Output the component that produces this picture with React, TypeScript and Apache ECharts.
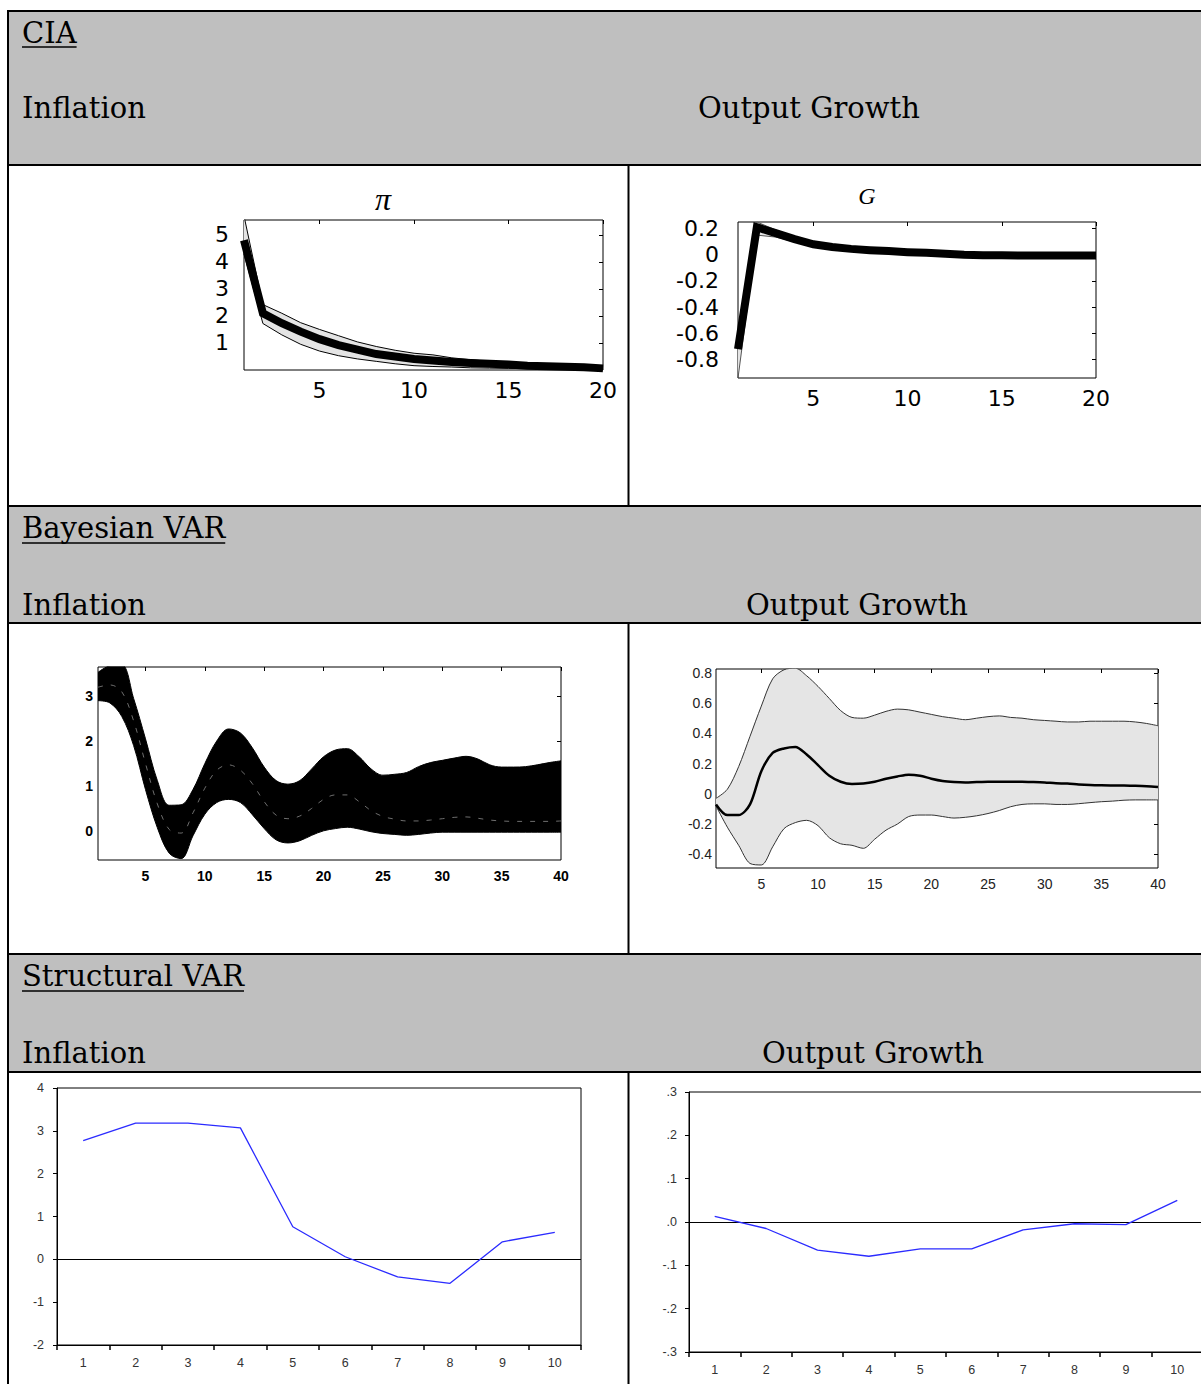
import React, { useEffect, useRef } from "react";
import * as echarts from "echarts";

// Impulse-response horizons
const ciaHorizons = ["1", "2", "3", "4", "5", "6", "7", "8", "9", "10", "11", "12", "13", "14", "15", "16", "17", "18", "19", "20"];
const bvarHorizons = [
  "1", "2", "3", "4", "5", "6", "7", "8", "9", "10", "11", "12", "13", "14", "15", "16", "17", "18", "19", "20",
  "21", "22", "23", "24", "25", "26", "27", "28", "29", "30", "31", "32", "33", "34", "35", "36", "37", "38", "39", "40",
];
const svarPeriods = ["1", "2", "3", "4", "5", "6", "7", "8", "9", "10"];

// CIA model: inflation response (π) with its band
const ciaPiMean = [4.8, 2.1, 1.73, 1.42, 1.14, 0.92, 0.75, 0.59, 0.5, 0.41, 0.35, 0.3, 0.26, 0.23, 0.2, 0.16, 0.14, 0.12, 0.1, 0.06];
const ciaPiUpper = [5.7, 2.42, 2.1, 1.75, 1.5, 1.27, 1.04, 0.87, 0.73, 0.62, 0.56, 0.45, 0.38, 0.32, 0.28, 0.25, 0.22, 0.2, 0.18, 0.16];
const ciaPiLower = [4.3, 1.72, 1.3, 0.95, 0.7, 0.53, 0.41, 0.32, 0.23, 0.16, 0.13, 0.11, 0.08, 0.07, 0.06, 0.05, 0.04, 0.03, 0.03, 0.02];

// CIA model: output growth response (G) with its band
const ciaGMean = [-0.72, 0.21, 0.165, 0.12, 0.08, 0.06, 0.045, 0.035, 0.028, 0.02, 0.015, 0.008, 0.0, -0.003, -0.004, -0.005, -0.005, -0.005, -0.005, -0.005];
const ciaGUpper = [-0.6, 0.25, 0.19, 0.14, 0.1, 0.075, 0.058, 0.046, 0.038, 0.03, 0.024, 0.017, 0.01, 0.006, 0.004, 0.003, 0.002, 0.002, 0.002, 0.002];
const ciaGLower = [-0.94, 0.15, 0.135, 0.098, 0.062, 0.045, 0.033, 0.024, 0.018, 0.011, 0.006, 0.0, -0.008, -0.011, -0.012, -0.013, -0.013, -0.013, -0.013, -0.013];

// Bayesian VAR: inflation draws (envelope and inner path)
const bvarPiUpper = [
  3.53, 3.68, 3.7, 2.95, 2.05, 1.12, 0.57, 0.58, 0.92, 1.5,
  2.0, 2.27, 2.18, 1.85, 1.42, 1.12, 1.04, 1.12, 1.38, 1.65,
  1.8, 1.83, 1.65, 1.38, 1.24, 1.26, 1.3, 1.43, 1.52, 1.57,
  1.62, 1.66, 1.6, 1.47, 1.42, 1.42, 1.43, 1.47, 1.52, 1.56,
];
const bvarPiLower = [
  2.9, 2.85, 2.55, 1.9, 0.92, 0.07, -0.5, -0.62, -0.11, 0.37,
  0.63, 0.7, 0.63, 0.36, 0.05, -0.2, -0.27, -0.22, -0.1, 0.0,
  0.05, 0.08, 0.04, -0.02, -0.06, -0.08, -0.1, -0.08, -0.05, -0.03,
  -0.03, -0.03, -0.03, -0.03, -0.03, -0.03, -0.03, -0.03, -0.03, -0.03,
];
const bvarPiInner = [
  3.2, 3.25, 3.1, 2.45, 1.5, 0.6, 0.03, -0.05, 0.4, 0.95,
  1.35, 1.47, 1.35, 1.05, 0.65, 0.35, 0.27, 0.33, 0.5, 0.7,
  0.8, 0.8, 0.65, 0.45, 0.32, 0.26, 0.22, 0.22, 0.24, 0.27,
  0.3, 0.31, 0.28, 0.24, 0.22, 0.21, 0.21, 0.21, 0.21, 0.22,
];

// Bayesian VAR: output growth median and band
const bvarGMean = [
  -0.07, -0.14, -0.14, -0.07, 0.15, 0.27, 0.3, 0.31, 0.26, 0.19,
  0.12, 0.08, 0.065, 0.068, 0.08, 0.1, 0.115, 0.127, 0.12, 0.1,
  0.085, 0.078, 0.075, 0.078, 0.08, 0.08, 0.08, 0.08, 0.078, 0.075,
  0.07, 0.068, 0.062, 0.058, 0.056, 0.055, 0.055, 0.053, 0.05, 0.045,
];
const bvarGUpper = [
  -0.03, 0.03, 0.18, 0.38, 0.58, 0.76, 0.82, 0.83, 0.78, 0.71,
  0.63, 0.55, 0.505, 0.5, 0.52, 0.545, 0.56, 0.555, 0.54, 0.525,
  0.51, 0.5, 0.49, 0.5, 0.51, 0.515, 0.505, 0.5, 0.49, 0.485,
  0.48, 0.475, 0.475, 0.48, 0.48, 0.48, 0.48, 0.475, 0.465, 0.45,
];
const bvarGLower = [
  -0.08, -0.22, -0.34, -0.46, -0.47, -0.35, -0.23, -0.19, -0.175, -0.21,
  -0.29, -0.33, -0.34, -0.36, -0.3, -0.24, -0.2, -0.15, -0.14, -0.14,
  -0.15, -0.16, -0.155, -0.145, -0.13, -0.11, -0.085, -0.07, -0.066, -0.066,
  -0.07, -0.07, -0.065, -0.058, -0.052, -0.048, -0.042, -0.04, -0.04, -0.04,
];

// Structural VAR responses
const svarPi = [2.77, 3.18, 3.18, 3.07, 0.76, 0.06, -0.41, -0.56, 0.41, 0.63];
const svarG = [0.013, -0.015, -0.065, -0.079, -0.062, -0.062, -0.018, -0.004, -0.006, 0.05];

// Tick labels
const ciaXTicks = ["5", "10", "15", "20"];
const ciaPiYTicks = [1, 2, 3, 4, 5];
const ciaGYTicks = [-0.8, -0.6, -0.4, -0.2, 0, 0.2];
const bvarXTicks = ["5", "10", "15", "20", "25", "30", "35", "40"];
const bvarPiYTicks = [0, 1, 2, 3];
const bvarGYTicks = [-0.4, -0.2, 0, 0.2, 0.4, 0.6, 0.8];

const HEADER_FONT_SIZE = 29;
const HEADER_FONT_FAMILY = '"DejaVu Serif"';

function measure(text: string, font: string) {
  const ctx = document.createElement("canvas").getContext("2d");
  if (!ctx) return text.length * 15;
  ctx.font = font;
  return ctx.measureText(text).width;
}

// A shaded band: a base line at the lower bound plus a stacked width line whose fill spans to the upper bound
function band(
  id: string,
  axis: number,
  lower: number[],
  upper: number[],
  fill: string,
  stroke: string,
  smooth: number | boolean
) {
  const common = {
    type: "line",
    stack: id,
    stackStrategy: "all",
    xAxisIndex: axis,
    yAxisIndex: axis,
    symbol: "none",
    smooth,
    z: 2,
  };
  return [
    { ...common, name: id + "-lower", data: lower, lineStyle: { color: stroke, width: 1 } },
    {
      ...common,
      name: id + "-upper",
      data: upper.map((u, i) => u - lower[i]),
      lineStyle: { color: stroke, width: 1 },
      areaStyle: { color: fill, opacity: 1 },
    },
  ];
}

// MATLAB-style axes: labels on bottom/left, inward ticks on top/right
function matlabX(gridIndex: number, cats: string[], ticks: string[], label: object) {
  const pick = (_i: number, v: string) => ticks.indexOf(v) >= 0;
  return [
    {
      gridIndex,
      type: "category",
      data: cats,
      boundaryGap: false,
      axisLine: { show: false, onZero: false },
      axisTick: { show: false },
      splitLine: { show: false },
      axisLabel: { interval: pick, ...label },
    },
    {
      gridIndex,
      type: "category",
      data: cats,
      position: "top",
      boundaryGap: false,
      axisLine: { show: false, onZero: false },
      axisLabel: { show: false },
      splitLine: { show: false },
      axisTick: { show: true, inside: true, length: 4, interval: pick, lineStyle: { color: "#000" } },
    },
  ];
}

function matlabY(gridIndex: number, min: number, max: number, ticks: number[], label: object) {
  return [
    {
      gridIndex,
      type: "value",
      min,
      max,
      axisLine: { show: false, onZero: false },
      axisTick: { show: false },
      splitLine: { show: false },
      axisLabel: { customValues: ticks, ...label },
    },
    {
      gridIndex,
      type: "value",
      position: "right",
      min,
      max,
      axisLine: { show: false, onZero: false },
      axisLabel: { show: false },
      splitLine: { show: false },
      axisTick: { show: true, inside: true, length: 4, customValues: ticks, lineStyle: { color: "#000" } },
    },
  ];
}

function buildOption() {
  const headerFont = `${HEADER_FONT_SIZE}px ${HEADER_FONT_FAMILY}`;

  const frame = {
    show: true,
    borderColor: "#000",
    borderWidth: 1,
    backgroundColor: "rgba(0,0,0,0)",
    containLabel: false,
    outerBoundsMode: "none",
  };

  const ciaLabel = { fontFamily: '"DejaVu Sans"', fontSize: 22, color: "#000" };
  const bvarPiLabel = { fontFamily: '"Liberation Sans"', fontWeight: "bold", fontSize: 14, color: "#000" };
  const bvarGLabel = { fontFamily: '"Liberation Sans Narrow", "Liberation Sans"', fontSize: 14, color: "#222" };
  const svarLabel = { fontFamily: '"Liberation Sans"', fontSize: 12.5, color: "#333" };

  // Table: header rows, rules and cell dividers
  const text = (t: string, x: number, y: number) => ({
    type: "text",
    x,
    y,
    z: 10,
    silent: true,
    style: {
      text: t,
      font: headerFont,
      fill: "#000",
      textAlign: "left",
      textVerticalAlign: "middle",
      align: "left",
      verticalAlign: "middle",
    },
  });
  const underline = (t: string, x: number, y: number) => ({
    type: "line",
    z: 10,
    silent: true,
    shape: { x1: x, y1: y, x2: x + measure(t, headerFont), y2: y },
    style: { stroke: "#000", lineWidth: 1.5 },
  });
  const rule = (x1: number, y1: number, x2: number, y2: number) => ({
    type: "line",
    z: 10,
    silent: true,
    shape: { x1, y1, x2, y2 },
    style: { stroke: "#000", lineWidth: 2 },
  });
  const shade = (y: number, h: number) => ({
    type: "rect",
    z: 0,
    silent: true,
    shape: { x: 8, y, width: 1200, height: h },
    style: { fill: "#bfbfbf" },
  });
  const plotTitle = (t: string, x: number, y: number, size: number) => ({
    type: "text",
    x,
    y,
    z: 10,
    silent: true,
    style: {
      text: t,
      fontFamily: '"Liberation Serif"',
      fontStyle: "italic",
      fontSize: size,
      fill: "#000",
      textAlign: "center",
      textVerticalAlign: "middle",
      align: "center",
      verticalAlign: "middle",
    },
  });

  const graphic = [
    shade(11, 154),
    shade(506, 117),
    shade(954, 118),
    rule(7, 11, 1201, 11),
    rule(7, 165, 1201, 165),
    rule(7, 506, 1201, 506),
    rule(7, 623, 1201, 623),
    rule(7, 954, 1201, 954),
    rule(7, 1072, 1201, 1072),
    rule(8, 10, 8, 1384),
    rule(628.5, 165, 628.5, 506),
    rule(628.5, 623, 628.5, 954),
    rule(628.5, 1072, 628.5, 1384),
    text("CIA", 22, 33),
    underline("CIA", 22, 47),
    text("Inflation", 22, 108),
    text("Output Growth", 698, 108),
    text("Bayesian VAR", 22, 528),
    underline("Bayesian VAR", 22, 543),
    text("Inflation", 22, 605),
    text("Output Growth", 746, 605),
    text("Structural VAR", 22, 976),
    underline("Structural VAR", 22, 991),
    text("Inflation", 22, 1053),
    text("Output Growth", 762, 1053),
    plotTitle("π", 383, 199, 32),
    plotTitle("G", 867, 196, 24),
  ];

  const svarYFormat = (v: number) => {
    const r = Math.round(v * 10);
    return (r < 0 ? "-" : "") + "." + Math.abs(r);
  };

  // EViews-style category axis: ticks on period boundaries, below the frame
  const evX = (gridIndex: number) => ({
    gridIndex,
    type: "category",
    data: svarPeriods,
    boundaryGap: true,
    axisLine: { show: true, onZero: false, lineStyle: { color: "#000", width: 1 } },
    axisTick: { show: true, length: 5, lineStyle: { color: "#000", width: 1.5 } },
    splitLine: { show: false },
    axisLabel: { margin: 11, ...svarLabel },
  });

  return {
    animation: false,
    backgroundColor: "#fff",
    graphic,
    grid: [
      { left: 244, top: 220, width: 359, height: 150, ...frame },
      { left: 738, top: 222, width: 358, height: 156, ...frame },
      { left: 98, top: 667, width: 463, height: 193, ...frame },
      { left: 716, top: 669, width: 442, height: 199, ...frame },
      { left: 57, top: 1088, width: 524, height: 257, ...frame },
      { left: 689, top: 1092, width: 514, height: 260, ...frame },
    ],
    xAxis: [
      ...matlabX(0, ciaHorizons, ciaXTicks, { margin: 9, ...ciaLabel }),
      ...matlabX(1, ciaHorizons, ciaXTicks, { margin: 9, ...ciaLabel }),
      ...matlabX(2, bvarHorizons, bvarXTicks, { margin: 9, ...bvarPiLabel }),
      ...matlabX(3, bvarHorizons, bvarXTicks, { margin: 9, ...bvarGLabel }),
      evX(4),
      evX(5),
    ],
    yAxis: [
      ...matlabY(0, 0, 5.55, ciaPiYTicks, { margin: 15, ...ciaLabel }),
      ...matlabY(1, -0.94, 0.25, ciaGYTicks, { margin: 19, ...ciaLabel }),
      ...matlabY(2, -0.65, 3.65, bvarPiYTicks, { margin: 5, ...bvarPiLabel }),
      ...matlabY(3, -0.49, 0.825, bvarGYTicks, { margin: 4, ...bvarGLabel }),
      {
        gridIndex: 4,
        type: "value",
        min: -2,
        max: 4,
        interval: 1,
        axisLine: { show: true, onZero: false, lineStyle: { color: "#000" } },
        axisTick: { show: true, length: 4, lineStyle: { color: "#000" } },
        splitLine: { show: false },
        axisLabel: { margin: 13, ...svarLabel },
      },
      {
        gridIndex: 5,
        type: "value",
        min: -0.3,
        max: 0.3,
        interval: 0.1,
        axisLine: { show: true, onZero: false, lineStyle: { color: "#000" } },
        axisTick: { show: true, length: 4, lineStyle: { color: "#000" } },
        splitLine: { show: false },
        axisLabel: { margin: 12, formatter: svarYFormat, ...svarLabel },
      },
    ],
    series: [
      // CIA: inflation
      ...band("ciaPi", 0, ciaPiLower, ciaPiUpper, "#e4e4e4", "#000", false),
      {
        type: "line",
        name: "ciaPiMean",
        xAxisIndex: 0,
        yAxisIndex: 0,
        data: ciaPiMean,
        symbol: "none",
        clip: false,
        z: 5,
        lineStyle: { color: "#000", width: 8, join: "miter" },
      },
      // CIA: output growth
      ...band("ciaG", 2, ciaGLower, ciaGUpper, "#e4e4e4", "#555", false),
      {
        type: "line",
        name: "ciaGMean",
        xAxisIndex: 2,
        yAxisIndex: 2,
        data: ciaGMean,
        symbol: "none",
        clip: false,
        z: 5,
        lineStyle: { color: "#000", width: 8, join: "miter" },
      },
      // Bayesian VAR: inflation
      ...band("bvarPi", 4, bvarPiLower, bvarPiUpper, "#000", "#000", 0.35),
      {
        type: "line",
        name: "bvarPiInner",
        xAxisIndex: 4,
        yAxisIndex: 4,
        data: bvarPiInner,
        symbol: "none",
        smooth: 0.35,
        z: 5,
        lineStyle: { color: "#6e6e6e", width: 1, type: [5, 8] },
      },
      // Bayesian VAR: output growth
      ...band("bvarG", 6, bvarGLower, bvarGUpper, "#e5e5e5", "#333", 0.3),
      {
        type: "line",
        name: "bvarGMean",
        xAxisIndex: 6,
        yAxisIndex: 6,
        data: bvarGMean,
        symbol: "none",
        smooth: 0.3,
        z: 5,
        lineStyle: { color: "#000", width: 2.5 },
      },
      // Structural VAR: inflation
      {
        type: "line",
        name: "svarPi",
        xAxisIndex: 8,
        yAxisIndex: 8,
        data: svarPi,
        symbol: "none",
        z: 5,
        lineStyle: { color: "#2b2bff", width: 1.3 },
        markLine: {
          silent: true,
          symbol: "none",
          label: { show: false },
          lineStyle: { color: "#000", width: 1, type: "solid" },
          data: [{ yAxis: 0 }],
        },
      },
      // Structural VAR: output growth
      {
        type: "line",
        name: "svarG",
        xAxisIndex: 9,
        yAxisIndex: 9,
        data: svarG,
        symbol: "none",
        z: 5,
        lineStyle: { color: "#2b2bff", width: 1.3 },
        markLine: {
          silent: true,
          symbol: "none",
          label: { show: false },
          lineStyle: { color: "#000", width: 1.2, type: "solid" },
          data: [{ yAxis: 0 }],
        },
      },
    ],
  };
}

export default function App() {
  const ref = useRef<HTMLDivElement>(null);

  useEffect(() => {
    if (!ref.current) return;
    const chart = echarts.init(ref.current, null, { renderer: "svg" });
    chart.setOption(buildOption() as any);
    return () => chart.dispose();
  }, []);

  return (
    <div
      style={{
        position: "absolute",
        left: 0,
        top: 0,
        width: 1201,
        height: 1384,
        overflow: "hidden",
        background: "#fff",
      }}
    >
      <div ref={ref} style={{ width: 1201, height: 1384 }} />
    </div>
  );
}
